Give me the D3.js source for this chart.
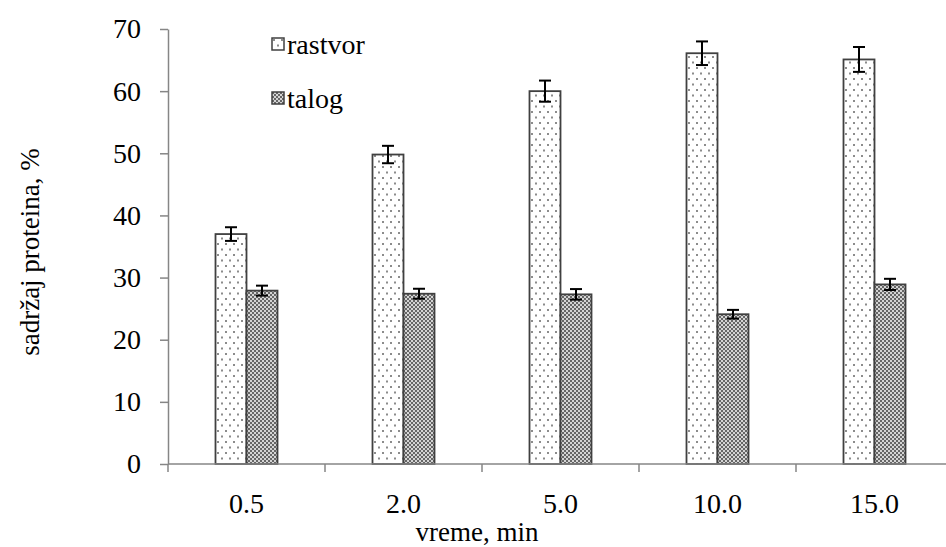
<!DOCTYPE html>
<html>
<head>
<meta charset="utf-8">
<script src="https://cdn.jsdelivr.net/npm/d3@7"></script>
<style>
  body { margin: 0; background: #fff; }
  svg { display: block; }
  svg text { font-family: "Liberation Serif", "Times New Roman", serif; fill: #000; }
</style>
</head>
<body>
<svg id="chart" width="946" height="547"></svg>
<script>
// data
var categories = ["0.5", "2.0", "5.0", "10.0", "15.0"];
var series = ["rastvor", "talog"];
var rastvor = [37.0, 49.8, 60.0, 66.1, 65.1];
var rastvorErr = [1.1, 1.4, 1.7, 1.9, 2.0];
var talog = [27.9, 27.4, 27.3, 24.1, 28.9];
var talogErr = [0.8, 0.8, 0.85, 0.7, 0.9];
var yTicks = [0, 10, 20, 30, 40, 50, 60, 70];

var svg = d3.select("#chart");
var plotLeft = 168, plotTop = 29, plotBottom = 464, plotRight = 953;
var fontSize = 28;

// fill patterns
var defs = svg.append("defs");
var dots = defs.append("pattern")
  .attr("id", "dots").attr("patternUnits", "userSpaceOnUse")
  .attr("width", 8).attr("height", 11);
dots.append("rect").attr("width", 8).attr("height", 11).attr("fill", "#fff");
dots.append("rect").attr("x", 1).attr("y", 1).attr("width", 2).attr("height", 2).attr("fill", "#8c8c8c");
dots.append("rect").attr("x", 5).attr("y", 6.5).attr("width", 2).attr("height", 2).attr("fill", "#8c8c8c");

var check = defs.append("pattern")
  .attr("id", "check").attr("patternUnits", "userSpaceOnUse")
  .attr("width", 4).attr("height", 4);
check.append("rect").attr("width", 4).attr("height", 4).attr("fill", "#d4d4d4");
check.append("rect").attr("x", 0).attr("y", 0).attr("width", 2).attr("height", 2).attr("fill", "#666");
check.append("rect").attr("x", 2).attr("y", 2).attr("width", 2).attr("height", 2).attr("fill", "#666");

var fills = {rastvor: "url(#dots)", talog: "url(#check)"};

// scales
var x = d3.scaleBand().domain(categories).range([plotLeft, plotRight]);
var x1 = d3.scaleBand().domain(series)
  .range([(x.bandwidth() - 62) / 2, (x.bandwidth() + 62) / 2]);
var y = d3.scaleLinear().domain([0, 70]).range([plotBottom, plotTop]);

// y axis
var yAxis = svg.append("g")
  .attr("transform", "translate(" + plotLeft + ",0)")
  .call(d3.axisLeft(y).tickValues(yTicks).tickSize(8).tickPadding(19).tickSizeOuter(0));
yAxis.attr("font-family", null).attr("font-size", null);
yAxis.select(".domain").attr("stroke", "#868686").attr("stroke-width", 1.5);
yAxis.selectAll(".tick line").attr("stroke", "#868686").attr("stroke-width", 1.5);
yAxis.selectAll(".tick text")
  .attr("font-size", fontSize).attr("fill", "#000");

// bars
var rows = categories.map(function(c, i) {
  return {cat: c, vals: [
    {s: "rastvor", v: rastvor[i], e: rastvorErr[i]},
    {s: "talog", v: talog[i], e: talogErr[i]}
  ]};
});

var groups = svg.selectAll(".grp")
  .data(rows)
  .enter()
  .append("g")
  .attr("class", "grp")
  .attr("transform", function(d){ return "translate(" + x(d.cat) + ",0)" });

groups.selectAll("rect")
  .data(function(d){ return d.vals })
  .enter()
  .append("rect")
  .attr("x", function(d){ return x1(d.s) })
  .attr("y", function(d){ return y(d.v) })
  .attr("width", x1.bandwidth())
  .attr("height", function(d){ return plotBottom - y(d.v) })
  .attr("fill", function(d){ return fills[d.s] })
  .attr("stroke", "#404040")
  .attr("stroke-width", 1.8);

// x axis (drawn over bar bottoms)
var xAxis = svg.append("g")
  .attr("transform", "translate(0," + plotBottom + ")");
xAxis.append("line")
  .attr("x1", plotLeft).attr("x2", plotRight)
  .attr("stroke", "#868686").attr("stroke-width", 1.5);
xAxis.selectAll(".xt")
  .data(categories.concat(["end"]))
  .enter()
  .append("line")
  .attr("x1", function(d, i){ return plotLeft + i * x.bandwidth() })
  .attr("x2", function(d, i){ return plotLeft + i * x.bandwidth() })
  .attr("y1", 0).attr("y2", 8)
  .attr("stroke", "#868686").attr("stroke-width", 1.5);
xAxis.selectAll(".xl")
  .data(categories)
  .enter()
  .append("text")
  .attr("x", function(d){ return x(d) + x.bandwidth() / 2 })
  .attr("y", 49)
  .attr("text-anchor", "middle")
  .attr("font-size", fontSize)
  .text(function(d){ return d });

// error bars
var err = groups.selectAll(".err")
  .data(function(d){ return d.vals })
  .enter()
  .append("g")
  .attr("stroke", "#000")
  .attr("stroke-width", 2);
err.append("line")
  .attr("x1", function(d){ return x1(d.s) + x1.bandwidth() / 2 })
  .attr("x2", function(d){ return x1(d.s) + x1.bandwidth() / 2 })
  .attr("y1", function(d){ return y(d.v + d.e) })
  .attr("y2", function(d){ return y(d.v - d.e) });
err.append("line")
  .attr("x1", function(d){ return x1(d.s) + x1.bandwidth() / 2 - 6 })
  .attr("x2", function(d){ return x1(d.s) + x1.bandwidth() / 2 + 6 })
  .attr("y1", function(d){ return y(d.v + d.e) })
  .attr("y2", function(d){ return y(d.v + d.e) });
err.append("line")
  .attr("x1", function(d){ return x1(d.s) + x1.bandwidth() / 2 - 6 })
  .attr("x2", function(d){ return x1(d.s) + x1.bandwidth() / 2 + 6 })
  .attr("y1", function(d){ return y(d.v - d.e) })
  .attr("y2", function(d){ return y(d.v - d.e) });

// axis titles
svg.append("text")
  .attr("transform", "translate(39,252) rotate(-90)")
  .attr("text-anchor", "middle")
  .attr("font-size", 27)
  .text("sadržaj proteina, %");
svg.append("text")
  .attr("x", 477).attr("y", 541)
  .attr("text-anchor", "middle")
  .attr("font-size", 27)
  .text("vreme, min");

// legend
var legend = svg.selectAll(".leg")
  .data(series)
  .enter()
  .append("g")
  .attr("transform", function(d, i){ return "translate(272," + (38 + i * 54) + ")" });
legend.append("rect")
  .attr("width", 12).attr("height", 12)
  .attr("fill", function(d){ return fills[d] })
  .attr("stroke", "#404040").attr("stroke-width", 1.5);
legend.append("text")
  .attr("x", 15).attr("y", 16)
  .attr("font-size", fontSize)
  .text(function(d){ return d });
</script>
</body>
</html>
